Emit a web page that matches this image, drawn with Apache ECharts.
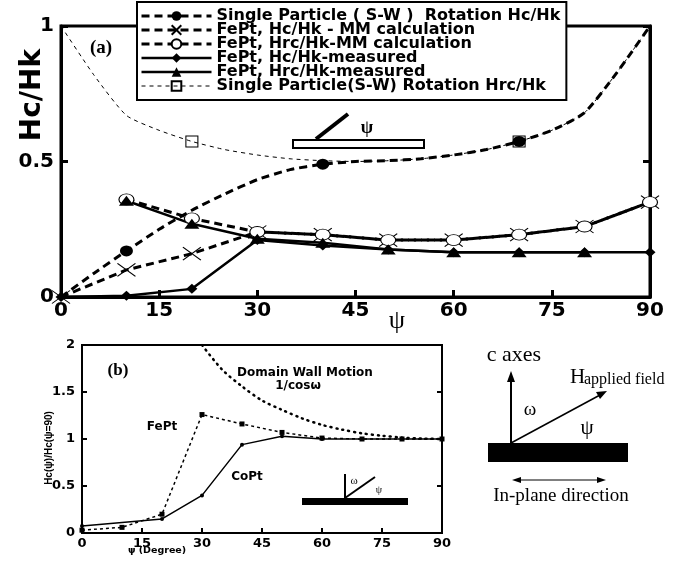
<!DOCTYPE html>
<html>
<head>
<meta charset="utf-8">
<script src="https://cdn.jsdelivr.net/npm/echarts@6/dist/echarts.min.js"></script>
<style>
  html, body { margin: 0; padding: 0; background: #fff; }
  #chart { width: 686px; height: 567px; }
</style>
</head>
<body>
<div id="chart"></div>
<script>
// ---- panel (a): Hc/Hk vs psi ----
const swAngles = [0, 5, 10, 15, 20, 25, 30, 35, 40, 45, 50, 55, 60, 65, 70, 75, 80, 85, 90]
const swHc = [0, 0.087, 0.17, 0.25, 0.32, 0.38, 0.433, 0.47, 0.49, 0.5, 0.503, 0.51, 0.524, 0.544, 0.574, 0.615, 0.68, 0.83, 1.0]
const swHcMarks = [10, 40, 70]
const swHrc = [1.0, 0.82, 0.67, 0.615, 0.574, 0.544, 0.524, 0.51, 0.503, 0.5, 0.503, 0.51, 0.524, 0.544, 0.574, 0.615, 0.68, 0.83, 1.0]
const swHrcMarks = [20, 70]

const mmHcAngles = [0, 10, 20, 30, 40, 50, 60, 70, 80, 90]
const mmHc = [0, 0.1, 0.16, 0.24, 0.23, 0.21, 0.21, 0.23, 0.26, 0.35]
const mmHrcAngles = [10, 20, 30, 40, 50, 60, 70, 80, 90]
const mmHrc = [0.36, 0.29, 0.24, 0.23, 0.21, 0.21, 0.23, 0.26, 0.35]

const measHcAngles = [0, 10, 20, 30, 40, 50, 60, 70, 80, 90]
const measHc = [0, 0.005, 0.03, 0.21, 0.19, 0.175, 0.165, 0.165, 0.165, 0.165]
const measHrcAngles = [10, 20, 30, 40, 50, 60, 70, 80]
const measHrc = [0.355, 0.27, 0.215, 0.2, 0.175, 0.165, 0.165, 0.165]

// ---- panel (b): Hc(psi)/Hc(psi=90) ----
const fePtAngles = [0, 10, 20, 30, 40, 50, 60, 70, 80, 90]
const fePt = [0.03, 0.06, 0.2, 1.26, 1.16, 1.07, 1.01, 1.0, 1.0, 1.0]
const coPtAngles = [0, 20, 30, 40, 50, 60, 70, 80, 90]
const coPt = [0.075, 0.15, 0.4, 0.94, 1.03, 1.0, 1.0, 1.0, 1.0]
const dwmAngles = [30, 35, 40, 45, 50, 55, 60, 65, 70, 75, 80, 85, 90]
const dwm = [2.0, 1.74, 1.56, 1.41, 1.31, 1.22, 1.15, 1.1, 1.06, 1.035, 1.015, 1.004, 1.0]

const legendNames = [
  'Single Particle ( S-W )  Rotation Hc/Hk',
  'FePt, Hc/Hk - MM calculation',
  'FePt, Hrc/Hk-MM calculation',
  'FePt, Hc/Hk-measured',
  'FePt, Hrc/Hk-measured',
  'Single Particle(S-W) Rotation Hrc/Hk'
]

function pairs (xs, ys) {
  return xs.map((x, i) => [x, ys[i]])
}
// only some points of the theory curves carry a marker
function marked (xs, ys, marks) {
  return xs.map((x, i) => marks.indexOf(x) >= 0 ? [x, ys[i]] : { value: [x, ys[i]], symbol: 'none' })
}

const bold = 'DejaVu Sans'
const thickDash = { color: '#000', width: 3, type: [8, 5] }
const thinDash = { color: '#000', width: 1, type: [4, 4] }
const solid = { color: '#000', width: 2.5, type: 'solid' }

function xAxisOf (grid, size, tick, width) {
  return {
    gridIndex: grid, type: 'value', min: 0, max: 90, interval: 15,
    axisLine: { onZero: false, lineStyle: { color: '#000', width: width } },
    axisTick: { inside: true, length: tick, lineStyle: { color: '#000', width: width } },
    axisLabel: { color: '#000', fontFamily: bold, fontWeight: 'bold', fontSize: size, margin: 4 },
    splitLine: { show: false }
  }
}
function yAxisOf (grid, max, pos, size, tick, width) {
  return {
    gridIndex: grid, type: 'value', min: 0, max: max, interval: 0.5, position: pos,
    axisLine: { show: true, onZero: false, lineStyle: { color: '#000', width: width } },
    axisTick: { show: true, inside: true, length: tick, lineStyle: { color: '#000', width: width } },
    axisLabel: { show: pos === 'left', color: '#000', fontFamily: bold, fontWeight: 'bold', fontSize: size, margin: 7 },
    splitLine: { show: false }
  }
}

const chart = echarts.init(document.getElementById('chart'))
chart.setOption({
  animation: false,
  backgroundColor: '#fff',
  grid: [
    { left: 61, top: 26, width: 589, height: 271, show: true, borderColor: '#000', borderWidth: 3 },
    { left: 82, top: 345, width: 360, height: 188, show: true, borderColor: '#000', borderWidth: 2 }
  ],
  xAxis: [xAxisOf(0, 20, 7, 3), xAxisOf(1, 13, 5, 2)],
  yAxis: [
    yAxisOf(0, 1, 'left', 20, 7, 3),
    yAxisOf(0, 1, 'right', 20, 7, 3),
    yAxisOf(1, 2, 'left', 13, 5, 2),
    yAxisOf(1, 2, 'right', 13, 5, 2)
  ],
  legend: {
    data: [
      { name: legendNames[0], lineStyle: thickDash },
      { name: legendNames[1], lineStyle: thickDash },
      { name: legendNames[2], lineStyle: thickDash },
      { name: legendNames[3], lineStyle: solid },
      { name: legendNames[4], lineStyle: solid },
      { name: legendNames[5], lineStyle: thinDash }
    ],
    orient: 'vertical',
    left: 137,
    top: 2,
    padding: [6, 6, 6, 3],
    itemWidth: 70,
    itemHeight: 12,
    itemGap: -2,
    selectedMode: false,
    backgroundColor: '#fff',
    borderColor: '#000',
    borderWidth: 2,
    textStyle: { color: '#000', fontFamily: bold, fontWeight: 'bold', fontSize: 16, lineHeight: 12 }
  },
  series: [
    {
      name: legendNames[0], type: 'line', xAxisIndex: 0, yAxisIndex: 0,
      data: marked(swAngles, swHc, swHcMarks), smooth: 0.2,
      symbol: 'circle', symbolSize: [13, 11],
      itemStyle: { color: '#000' },
      lineStyle: thickDash
    },
    {
      name: legendNames[1], type: 'line', xAxisIndex: 0, yAxisIndex: 0,
      data: pairs(mmHcAngles, mmHc),
      symbol: 'path://M0,0L18,13M18,0L0,13', symbolSize: [18, 13],
      itemStyle: { color: 'rgba(0,0,0,0)', borderColor: '#000', borderWidth: 1 },
      lineStyle: thickDash
    },
    {
      name: legendNames[2], type: 'line', xAxisIndex: 0, yAxisIndex: 0,
      data: pairs(mmHrcAngles, mmHrc),
      symbol: 'circle', symbolSize: [15, 11],
      itemStyle: { color: '#fff', borderColor: '#000', borderWidth: 1 },
      lineStyle: thickDash
    },
    {
      name: legendNames[3], type: 'line', xAxisIndex: 0, yAxisIndex: 0,
      data: pairs(measHcAngles, measHc),
      symbol: 'diamond', symbolSize: [11, 10],
      itemStyle: { color: '#000' },
      lineStyle: solid
    },
    {
      name: legendNames[4], type: 'line', xAxisIndex: 0, yAxisIndex: 0,
      data: pairs(measHrcAngles, measHrc),
      symbol: 'triangle', symbolSize: [15, 10],
      itemStyle: { color: '#000' },
      lineStyle: solid
    },
    {
      name: legendNames[5], type: 'line', xAxisIndex: 0, yAxisIndex: 0,
      data: marked(swAngles, swHrc, swHrcMarks), smooth: 0.2,
      symbol: 'rect', symbolSize: [12, 11],
      itemStyle: { color: 'rgba(0,0,0,0)', borderColor: '#000', borderWidth: 1 },
      lineStyle: thinDash
    },
    {
      name: 'Domain Wall Motion', type: 'line', xAxisIndex: 1, yAxisIndex: 2,
      data: pairs(dwmAngles, dwm), smooth: 0.3, symbol: 'none',
      lineStyle: { color: '#000', width: 2.5, type: [1, 5], cap: 'round' }
    },
    {
      name: 'FePt', type: 'line', xAxisIndex: 1, yAxisIndex: 2,
      data: pairs(fePtAngles, fePt),
      symbol: 'rect', symbolSize: 5,
      itemStyle: { color: '#000' },
      lineStyle: { color: '#000', width: 1.5, type: [3, 3] }
    },
    {
      name: 'CoPt', type: 'line', xAxisIndex: 1, yAxisIndex: 2,
      data: pairs(coPtAngles, coPt),
      symbol: 'circle', symbolSize: 4,
      itemStyle: { color: '#000' },
      lineStyle: { color: '#000', width: 1.5 }
    }
  ],
  graphic: [
    // panel (a) labels
    { type: 'text', x: 33, y: 95, rotation: Math.PI / 2, style: { text: 'Hc/Hk', font: 'bold 28px "DejaVu Sans"', fill: '#000', textAlign: 'center', textVerticalAlign: 'middle' } },
    { type: 'text', x: 101, y: 48, style: { text: '(a)', font: 'bold 19px "Liberation Serif"', fill: '#000', textAlign: 'center', textVerticalAlign: 'middle' } },
    { type: 'text', x: 397, y: 321, style: { text: 'ψ', font: '26px "Liberation Serif"', fill: '#000', textAlign: 'center', textVerticalAlign: 'middle' } },
    // panel (a) inset
    { type: 'rect', shape: { x: 293, y: 140, width: 131, height: 8 }, style: { fill: '#fff', stroke: '#000', lineWidth: 2 } },
    { type: 'line', shape: { x1: 316, y1: 139, x2: 348, y2: 114 }, style: { stroke: '#000', lineWidth: 4 } },
    { type: 'text', x: 367, y: 128, style: { text: 'ψ', font: 'bold 18px "Liberation Serif"', fill: '#000', textAlign: 'center', textVerticalAlign: 'middle' } },
    // panel (b) labels
    { type: 'text', x: 49, y: 448, rotation: Math.PI / 2, style: { text: 'Hc(ψ)/Hc(ψ=90)', font: 'bold 10px "Liberation Sans"', fill: '#000', textAlign: 'center', textVerticalAlign: 'middle' } },
    { type: 'text', x: 157, y: 551, style: { text: 'ψ (Degree)', font: 'bold 9.5px "DejaVu Sans"', fill: '#000', textAlign: 'center', textVerticalAlign: 'middle' } },
    { type: 'text', x: 118, y: 371, style: { text: '(b)', font: 'bold 17px "Liberation Serif"', fill: '#000', textAlign: 'center', textVerticalAlign: 'middle' } },
    { type: 'text', x: 305, y: 373, style: { text: 'Domain Wall Motion', font: 'bold 12px "DejaVu Sans"', fill: '#000', textAlign: 'center', textVerticalAlign: 'middle' } },
    { type: 'text', x: 298, y: 386, style: { text: '1/cosω', font: 'bold 12px "DejaVu Sans"', fill: '#000', textAlign: 'center', textVerticalAlign: 'middle' } },
    { type: 'text', x: 162, y: 427, style: { text: 'FePt', font: 'bold 12px "DejaVu Sans"', fill: '#000', textAlign: 'center', textVerticalAlign: 'middle' } },
    { type: 'text', x: 247, y: 477, style: { text: 'CoPt', font: 'bold 12px "DejaVu Sans"', fill: '#000', textAlign: 'center', textVerticalAlign: 'middle' } },
    // panel (b) inset
    { type: 'rect', shape: { x: 302, y: 498, width: 106, height: 7 }, style: { fill: '#000' } },
    { type: 'line', shape: { x1: 345, y1: 474, x2: 345, y2: 498 }, style: { stroke: '#000', lineWidth: 2 } },
    { type: 'line', shape: { x1: 345, y1: 498, x2: 375, y2: 477 }, style: { stroke: '#000', lineWidth: 2 } },
    { type: 'text', x: 354, y: 481, style: { text: 'ω', font: '11px "Liberation Serif"', fill: '#000', textAlign: 'center', textVerticalAlign: 'middle' } },
    { type: 'text', x: 379, y: 490, style: { text: 'ψ', font: '10px "Liberation Serif"', fill: '#000', textAlign: 'center', textVerticalAlign: 'middle' } },
    // geometry sketch on the right
    { type: 'text', x: 514, y: 355, style: { text: 'c axes', font: '22px "Liberation Serif"', fill: '#000', textAlign: 'center', textVerticalAlign: 'middle' } },
    { type: 'line', shape: { x1: 511, y1: 443, x2: 511, y2: 378 }, style: { stroke: '#000', lineWidth: 2 } },
    { type: 'polygon', shape: { points: [[511, 371], [507, 382], [515, 382]] }, style: { fill: '#000' } },
    { type: 'line', shape: { x1: 511, y1: 443, x2: 600, y2: 395 }, style: { stroke: '#000', lineWidth: 1.5 } },
    { type: 'polygon', shape: { points: [[607, 391], [600, 399], [596, 392]] }, style: { fill: '#000' } },
    { type: 'text', x: 570, y: 377, style: { text: 'H', font: '21px "Liberation Serif"', fill: '#000', textAlign: 'left', textVerticalAlign: 'middle' } },
    { type: 'text', x: 584, y: 380, style: { text: 'applied field', font: '16px "Liberation Serif"', fill: '#000', textAlign: 'left', textVerticalAlign: 'middle' } },
    { type: 'text', x: 530, y: 410, style: { text: 'ω', font: '19px "Liberation Serif"', fill: '#000', textAlign: 'center', textVerticalAlign: 'middle' } },
    { type: 'text', x: 587, y: 428, style: { text: 'ψ', font: '21px "Liberation Serif"', fill: '#000', textAlign: 'center', textVerticalAlign: 'middle' } },
    { type: 'rect', shape: { x: 488, y: 443, width: 140, height: 19 }, style: { fill: '#000' } },
    { type: 'line', shape: { x1: 516, y1: 480, x2: 602, y2: 480 }, style: { stroke: '#000', lineWidth: 1 } },
    { type: 'polygon', shape: { points: [[512, 480], [521, 477], [521, 483]] }, style: { fill: '#000' } },
    { type: 'polygon', shape: { points: [[606, 480], [597, 477], [597, 483]] }, style: { fill: '#000' } },
    { type: 'text', x: 561, y: 496, style: { text: 'In-plane direction', font: '19px "Liberation Serif"', fill: '#000', textAlign: 'center', textVerticalAlign: 'middle' } }
  ]
})
</script>
</body>
</html>
